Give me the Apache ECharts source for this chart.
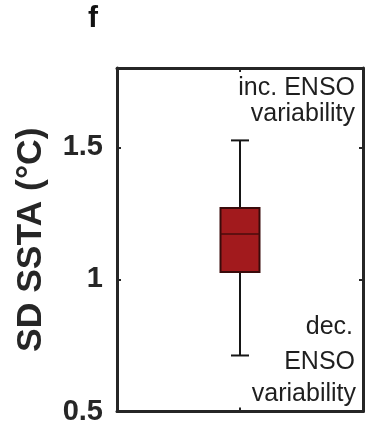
<!DOCTYPE html>
<html>
<head>
<meta charset="utf-8">
<style>
  html, body { margin: 0; padding: 0; background: #ffffff; }
  #chart { width: 368px; height: 426px; }
</style>
<script src="https://cdn.jsdelivr.net/npm/echarts@6/dist/echarts.min.js"></script>
</head>
<body>
<div id="chart"></div>
<script>
// Spread of SD SSTA across the ensemble: whisker low, Q1, median, Q3, whisker high
const categories = [''];
const boxStats = [[0.712, 1.028, 1.172, 1.270, 1.526]];
const yTicks = [0.5, 1, 1.5];
const yMin = 0.5;
const yMax = 1.8;
const panelLetter = 'f';
const upperNote = ['inc. ENSO', 'variability'];
const lowerNote = ['dec.', 'ENSO', 'variability'];

const FONT = '"Liberation Sans", Arial, Helvetica, sans-serif';
const INK = '#262626';

const chart = echarts.init(document.getElementById('chart'), null, { renderer: 'canvas' });

const frameLine = { show: true, onZero: false, lineStyle: { color: INK, width: 3 } };
const innerTick = { show: true, inside: true, length: 4, lineStyle: { color: INK, width: 2 } };

const seriesData = boxStats.map((s, i) => [i].concat(s));

function noteText(text, x, y) {
  return {
    type: 'text',
    x: x,
    y: y,
    style: {
      text: text,
      font: '25px ' + FONT,
      fill: '#1f1f1f',
      align: 'right',
      verticalAlign: 'middle'
    },
    z: 10
  };
}

const option = {
  backgroundColor: '#ffffff',
  animation: false,
  grid: { left: 117, right: 5, top: 68, bottom: 13, containLabel: false },
  xAxis: [
    {
      type: 'category',
      data: categories,
      position: 'bottom',
      axisLine: frameLine,
      axisTick: Object.assign({ alignWithLabel: true }, innerTick),
      axisLabel: { show: false },
      splitLine: { show: false }
    },
    {
      type: 'category',
      data: categories,
      position: 'top',
      axisLine: frameLine,
      axisTick: Object.assign({ alignWithLabel: true }, innerTick),
      axisLabel: { show: false },
      splitLine: { show: false }
    }
  ],
  yAxis: [
    {
      type: 'value',
      position: 'left',
      min: yMin,
      max: yMax,
      axisLine: frameLine,
      axisTick: Object.assign({ customValues: yTicks }, innerTick),
      axisLabel: {
        customValues: yTicks,
        margin: 14,
        color: INK,
        fontFamily: FONT,
        fontWeight: 'bold',
        fontSize: 29
      },
      splitLine: { show: false },
      name: 'SD SSTA (°C)',
      nameLocation: 'middle',
      nameRotate: 90,
      nameGap: 68,
      nameTextStyle: {
        color: INK,
        fontFamily: FONT,
        fontWeight: 'bold',
        fontSize: 35.5
      }
    },
    {
      type: 'value',
      position: 'right',
      min: yMin,
      max: yMax,
      axisLine: frameLine,
      axisTick: Object.assign({ customValues: yTicks }, innerTick),
      axisLabel: { show: false },
      splitLine: { show: false }
    }
  ],
  series: [
    {
      type: 'custom',
      xAxisIndex: 0,
      yAxisIndex: 0,
      data: seriesData,
      encode: { x: 0, y: [1, 2, 3, 4, 5] },
      renderItem: function (params, api) {
        const i = api.value(0);
        const pLow = api.coord([i, api.value(1)]);
        const pQ1 = api.coord([i, api.value(2)]);
        const pMed = api.coord([i, api.value(3)]);
        const pQ3 = api.coord([i, api.value(4)]);
        const pHigh = api.coord([i, api.value(5)]);
        const cx = pMed[0];
        const boxW = 39;
        const capW = 18;
        const whisker = { stroke: '#161616', lineWidth: 2 };
        return {
          type: 'group',
          children: [
            { type: 'line', shape: { x1: cx, y1: pHigh[1], x2: cx, y2: pQ3[1] }, style: whisker },
            { type: 'line', shape: { x1: cx, y1: pQ1[1], x2: cx, y2: pLow[1] }, style: whisker },
            { type: 'line', shape: { x1: cx - capW / 2, y1: pHigh[1], x2: cx + capW / 2, y2: pHigh[1] }, style: whisker },
            { type: 'line', shape: { x1: cx - capW / 2, y1: pLow[1], x2: cx + capW / 2, y2: pLow[1] }, style: whisker },
            {
              type: 'rect',
              shape: { x: cx - boxW / 2, y: pQ3[1], width: boxW, height: pQ1[1] - pQ3[1] },
              style: { fill: '#a21a1d', stroke: '#3a0b0b', lineWidth: 2 }
            },
            {
              type: 'line',
              shape: { x1: cx - boxW / 2, y1: pMed[1], x2: cx + boxW / 2, y2: pMed[1] },
              style: { stroke: '#4a0c0c', lineWidth: 1.5 }
            }
          ]
        };
      }
    }
  ],
  graphic: [
    {
      type: 'text',
      x: 93,
      y: 19,
      style: {
        text: panelLetter,
        font: 'bold 30px ' + FONT,
        fill: '#111111',
        align: 'center',
        verticalAlign: 'middle'
      }
    },
    noteText(upperNote[0], 355, 88.5),
    noteText(upperNote[1], 355, 114.5),
    noteText(lowerNote[0], 353, 327.5),
    noteText(lowerNote[1], 355, 362),
    noteText(lowerNote[2], 356, 394)
  ]
};

chart.setOption(option);
</script>
</body>
</html>
